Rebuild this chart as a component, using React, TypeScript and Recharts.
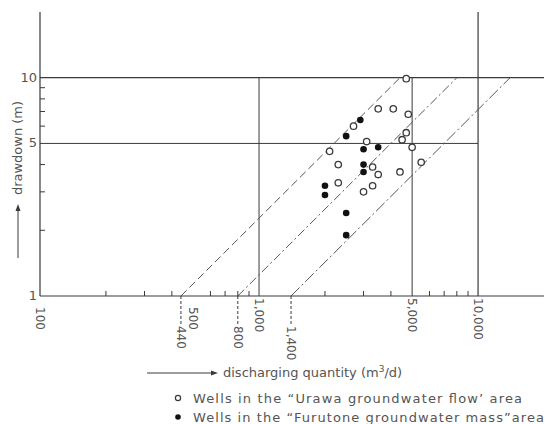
import {
  ScatterChart,
  Scatter,
  XAxis,
  YAxis,
  ReferenceLine,
} from 'recharts'

// discharging quantity (m3/d) and drawdown (m) per well
const urawaQ = [4700, 3500, 4100, 4800, 2700, 4700, 3100, 4500, 5000, 2100, 2300, 3300, 3500, 4400, 5500, 2300, 3300, 3000]
const urawaS = [9.9, 7.2, 7.2, 6.8, 6.0, 5.6, 5.1, 5.2, 4.8, 4.6, 4.0, 3.9, 3.6, 3.7, 4.1, 3.3, 3.2, 3.0]

const furutoneQ = [2900, 2500, 3000, 3500, 3000, 3000, 2000, 2000, 2500, 2500]
const furutoneS = [6.4, 5.4, 4.7, 4.8, 4.0, 3.7, 3.2, 2.9, 2.4, 1.9]

// boundary lines: discharge at 1 m and at 10 m drawdown
const boundaryLow = [440, 800, 1400]
const boundaryHigh = [4400, 8000, 14000]
const boundaryDash = ['8 4', '9 3 2 3', '12 3 2 3']

const xTicks = [100, 200, 300, 400, 440, 500, 600, 700, 800, 900, 1000, 1400, 2000, 3000, 4000, 5000, 6000, 7000, 8000, 9000, 10000]
const xLabels: Record<number, string> = { 100: '100', 500: '500', 1000: '1,000', 5000: '5,000', 10000: '10,000' }
const xLeaderLabels: Record<number, string> = { 440: '440', 800: '800', 1400: '1,400' }

const yTicks = [1, 2, 3, 4, 5, 6, 7, 8, 9, 10]
const yLabels: Record<number, string> = { 1: '1', 5: '5', 10: '10' }

const urawa = urawaQ.map((q, i) => ({ x: q, y: urawaS[i] }))
const furutone = furutoneQ.map((q, i) => ({ x: q, y: furutoneS[i] }))

const INK = '#3a3a3a'
const TEXT = '#555'
const FONT = '"DejaVu Sans", sans-serif'

const XTick = (props: any) => {
  const { x, y, payload } = props
  const v = payload.value as number
  const label = xLabels[v]
  const leader = xLeaderLabels[v]
  const minor = v !== 440 && v !== 1400 && !label
  return (
    <g>
      {minor && <line x1={x} y1={y} x2={x} y2={y - 5} stroke={INK} strokeWidth={1} />}
      {label && (
        <text
          x={x}
          y={v >= 1000 ? y + 2 : y + 11}
          transform={`rotate(90 ${x} ${v >= 1000 ? y + 2 : y + 11})`}
          dominantBaseline="central"
          fontSize={12}
          fill={TEXT}
          fontFamily={FONT}
        >
          {label}
        </text>
      )}
      {leader && (
        <g>
          <line x1={x} y1={y} x2={x} y2={y + 28} stroke={INK} strokeDasharray="3 2" />
          <text
            x={x}
            y={y + 30}
            transform={`rotate(90 ${x} ${y + 30})`}
            dominantBaseline="central"
            fontSize={12}
            fill={TEXT}
            fontFamily={FONT}
          >
            {leader}
          </text>
        </g>
      )}
    </g>
  )
}

const YTick = (props: any) => {
  const { x, y, payload } = props
  const v = payload.value as number
  const label = yLabels[v]
  return (
    <g>
      {!label && <line x1={x} y1={y} x2={x + 5} y2={y} stroke={INK} strokeWidth={1} />}
      {label && (
        <text x={x - 3} y={y} dy={4} textAnchor="end" fontSize={13} fill={TEXT} fontFamily={FONT}>
          {label}
        </text>
      )}
    </g>
  )
}

const OpenDot = (props: any) => (
  <circle cx={props.cx} cy={props.cy} r={3.2} fill="#fff" stroke={INK} strokeWidth={1.3} />
)

const FilledDot = (props: any) => (
  <circle cx={props.cx} cy={props.cy} r={3.3} fill="#111" />
)

const Notes = () => (
  <g fontFamily={FONT} fill={TEXT}>
    {/* y-axis title with arrow */}
    <text
      x={17}
      y={148}
      transform="rotate(-90 17 148)"
      textAnchor="middle"
      dominantBaseline="central"
      fontSize={13}
    >
      drawdown (m)
    </text>
    <line x1={18} y1={258} x2={18} y2={208} stroke={INK} strokeWidth={1} />
    <path d="M18 204 L15.5 211 L20.5 211 Z" fill={INK} />

    {/* x-axis title with arrow */}
    <line x1={147} y1={373} x2={212} y2={373} stroke={INK} strokeWidth={1} />
    <path d="M218 373 L211 370.5 L211 375.5 Z" fill={INK} />
    <text x={223} y={377} fontSize={13}>
      discharging quantity (m<tspan dy={-5} fontSize={9}>3</tspan>
      <tspan dy={5}>/d)</tspan>
    </text>

    {/* legend */}
    <circle cx={178} cy={398} r={2.6} fill="#fff" stroke={INK} strokeWidth={1.2} />
    <text x={193} y={403} fontSize={13} textLength={329} lengthAdjust="spacing">
      Wells in the “Urawa groundwater flow’ area
    </text>
    <circle cx={178} cy={417} r={2.8} fill="#111" />
    <text x={193} y={422} fontSize={13} textLength={351} lengthAdjust="spacing">
      Wells in the “Furutone groundwater mass”area
    </text>
  </g>
)

export default function App() {
  return (
    <div style={{ position: 'absolute', left: 0, top: 0, background: '#fff' }}>
      <ScatterChart width={545} height={424} margin={{ top: 12, right: 1, bottom: 0, left: 0 }}>
        <XAxis
          dataKey="x"
          type="number"
          scale="log"
          domain={[100, 20000]}
          ticks={xTicks}
          interval={0}
          allowDataOverflow
          height={128}
          tickSize={0}
          tickMargin={0}
          tickLine={false}
          axisLine={{ stroke: INK, strokeWidth: 1.2 }}
          tick={<XTick />}
        />
        <YAxis
          dataKey="y"
          type="number"
          scale="log"
          domain={[1, 20]}
          ticks={yTicks}
          interval={0}
          allowDataOverflow
          width={40}
          tickSize={0}
          tickMargin={0}
          tickLine={false}
          axisLine={{ stroke: INK, strokeWidth: 1.2 }}
          tick={<YTick />}
        />

        {/* frame lines */}
        <ReferenceLine segment={[{ x: 100, y: 10 }, { x: 20000, y: 10 }]} stroke={INK} strokeWidth={1.2} />
        <ReferenceLine segment={[{ x: 100, y: 5 }, { x: 10000, y: 5 }]} stroke={INK} strokeWidth={1} />
        <ReferenceLine segment={[{ x: 1000, y: 1 }, { x: 1000, y: 10 }]} stroke={INK} strokeWidth={1} />
        <ReferenceLine segment={[{ x: 5000, y: 1 }, { x: 5000, y: 10 }]} stroke={INK} strokeWidth={1} />
        <ReferenceLine segment={[{ x: 10000, y: 1 }, { x: 10000, y: 20 }]} stroke={INK} strokeWidth={1.2} />

        {boundaryLow.map((q, i) => (
          <ReferenceLine
            key={q}
            segment={[{ x: q, y: 1 }, { x: boundaryHigh[i], y: 10 }]}
            stroke="#555"
            strokeWidth={1}
            strokeDasharray={boundaryDash[i]}
          />
        ))}

        <Scatter data={urawa} shape={<OpenDot />} isAnimationActive={false} />
        <Scatter data={furutone} shape={<FilledDot />} isAnimationActive={false} />

        <Notes />
      </ScatterChart>
    </div>
  )
}
